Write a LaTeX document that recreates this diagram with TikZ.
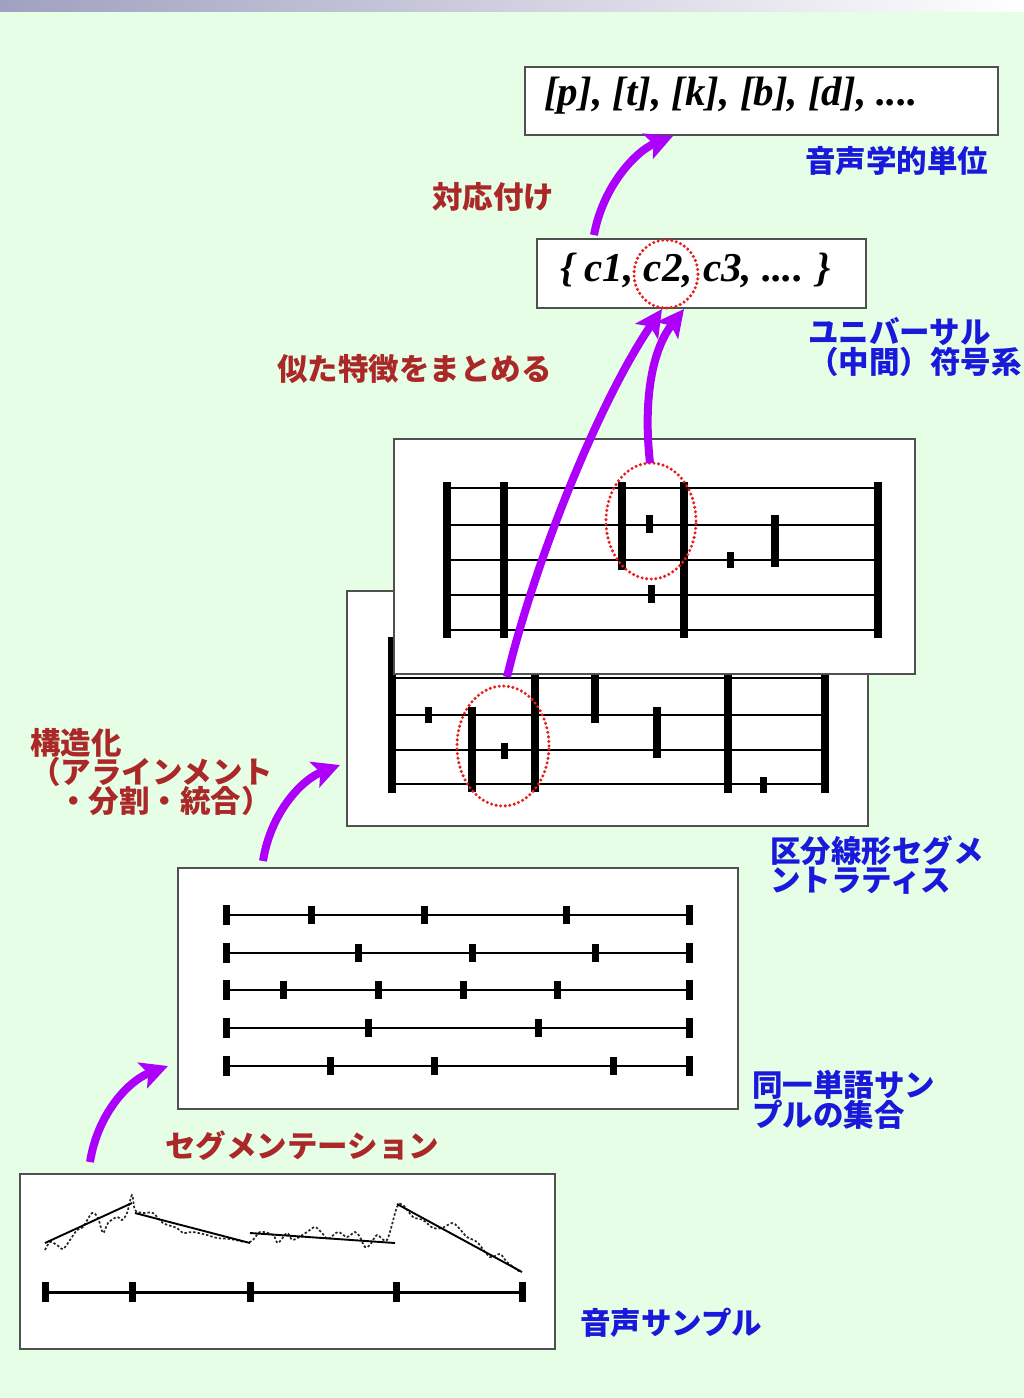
\documentclass[tikz,border=0pt]{standalone}
\usepackage{fontspec}
\newfontfamily\jp{Noto Sans CJK JP}
\newfontfamily\tnr{Liberation Serif}
\usetikzlibrary{arrows.meta,shapes.geometric}
\definecolor{bggreen}{RGB}{230,254,230}
\definecolor{labblue}{RGB}{25,25,220}
\definecolor{labred}{RGB}{170,40,40}
\definecolor{arrowpurple}{RGB}{172,0,250}
\definecolor{dotred}{RGB}{230,30,30}
\definecolor{boxgray}{RGB}{80,80,80}
\definecolor{stripL}{RGB}{160,160,192}
\begin{document}
\begin{tikzpicture}[x=1pt,y=-1pt,
  box/.style={draw=boxgray, line width=1.6pt, fill=white, inner sep=0pt, anchor=north west},
  jplab/.style={font=\jp\bfseries\fontsize{30.5pt}{29.5pt}\selectfont, anchor=west, inner sep=0pt, align=left},
  bluelab/.style={jplab, text=labblue},
  redlab/.style={jplab, text=labred},
  mathtxt/.style={font=\tnr\bfseries\itshape\fontsize{41pt}{41pt}\selectfont, anchor=west, inner sep=0pt},
  flow/.style={draw=arrowpurple, line width=8pt, -{Stealth[length=27pt,width=27pt,inset=6pt]}},
  ring/.style={draw=dotred, line width=3.4pt, dash pattern=on 0pt off 4.6pt, line cap=round},
  bar/.style={line width=8pt},
  hline/.style={line width=2.6pt},
  tick/.style={line width=7pt},
]
\useasboundingbox (0,0) rectangle (1024,1398);
% background
\fill[bggreen] (0,11) rectangle (1024,1398);
\shade[left color=stripL, right color=white] (0,0) rectangle (1024,11);

% ---------- top box: phonetic units
\node[box, minimum width=473pt, minimum height=68pt] (phon) at (524,66) {};
\node[mathtxt] (phontext) at (544,96) {[p], [t], [k], [b], [d], ....};
\node[bluelab] (phonlab) at (805,161) {音声学的単位};

% ---------- code set box
\node[box, minimum width=329pt, minimum height=69pt] (code) at (536,238) {};
\node[mathtxt] (codetext) at (560,270) {\{ c1, c2, c3, .... \}};
\node[ring, ellipse, draw, minimum width=64pt, minimum height=68pt, inner sep=0pt] (c2ring) at (666,274) {};
\node[bluelab] (codelab) at (808,347) {ユニバーサル\\（中間）符号系};

% labels
\node[redlab] (assoc) at (432,197) {対応付け};
\node[redlab] (group) at (277,369) {似た特徴をまとめる};

% ---------- front lattice (lower)
\node[box, minimum width=521pt, minimum height=235pt] (latB) at (346,590) {};
\foreach \y in {643,678,715,750,784} \draw[hline] (392,\y) -- (825,\y);
\foreach \x/\a/\b in {392/637/793, 472/707/792, 535/637/792, 595/637/723, 657/707/758, 728/637/793, 825/637/793}
  \draw[bar] (\x,\a) -- (\x,\b);
\foreach \x/\a/\b in {428/707/723, 504/743/759, 763/777/793}
  \draw[tick] (\x,\a) -- (\x,\b);
\node[ring, ellipse, draw, minimum width=92pt, minimum height=120pt, inner sep=0pt] (ringB) at (503,746) {};

% ---------- back lattice (upper)
\node[box, minimum width=521pt, minimum height=235pt] (latA) at (393,438) {};
\foreach \y in {488,525,560,595,630} \draw[hline] (447,\y) -- (878,\y);
\foreach \x/\a/\b in {447/482/638, 504/482/638, 622/482/570, 684/482/638, 775/515/567, 878/482/638}
  \draw[bar] (\x,\a) -- (\x,\b);
\foreach \x/\a/\b in {649/515/533, 651/585/603, 730/552/568}
  \draw[tick] (\x,\a) -- (\x,\b);
\node[ring, ellipse, draw, minimum width=90pt, minimum height=116pt, inner sep=0pt] (ringA) at (651,521) {};

\node[bluelab] (latlab) at (770,865) {区分線形セグメ\\ ントラティス};

% ---------- sample set box
\node[box, minimum width=560pt, minimum height=241pt] (samples) at (177,867) {};
\foreach \y/\ticks in {915/{311,424,566}, 953/{358,472,595}, 990/{283,378,463,557}, 1028/{368,538}, 1066/{330,434,613}} {
  \draw[hline] (226,\y) -- (689,\y);
  \foreach \x in {226,689} \draw[tick] (\x,\y-10) -- (\x,\y+10);
  \foreach \x in \ticks \draw[tick] (\x,\y-9) -- (\x,\y+9);
}
\node[bluelab] (samplab) at (752,1100) {同一単語サン\\プルの集合};

% ---------- speech sample box
\node[box, minimum width=535pt, minimum height=175pt] (speech) at (19,1173) {};
\draw[hline, line width=3pt] (45,1292) -- (522,1292);
\foreach \x in {45,132,250,396,522} \draw[tick] (\x,1282) -- (\x,1302);
\draw[black!85, line width=1.7pt, dash pattern=on 2.4pt off 2pt] plot[smooth, tension=0.5] coordinates {
 (45,1250) (50,1242) (57,1245) (63,1249) (70,1240) (77,1230) (83,1227) (92,1213) (98,1218) (103,1233) (108,1223) (117,1217) (122,1220) (127,1213) (132,1195) (135,1210) (143,1213) (153,1213) (163,1223) (177,1228) (183,1233) (193,1232) (207,1235) (217,1238) (230,1239) (250,1242)
 (260,1232) (273,1235) (278,1243) (287,1233) (293,1240) (307,1232) (315,1227) (322,1233) (328,1239) (338,1232) (347,1237) (355,1232) (360,1237) (365,1247) (370,1245) (377,1235) (387,1240) (397,1207) (403,1205) (413,1217) (423,1220) (433,1228) (442,1228) (452,1223) (458,1227) (467,1237) (477,1242) (490,1257) (500,1254) (507,1262) (520,1272)};
\draw[line width=1.9pt] (45,1243) -- (132,1203);
\draw[line width=1.9pt] (135,1213) -- (250,1243);
\draw[line width=1.9pt] (250,1233) -- (395,1243);
\draw[line width=1.9pt] (397,1204) -- (522,1272);
\node[bluelab] (speechlab) at (580,1323) {音声サンプル};

% ---------- red labels
\node[redlab] (segm) at (165,1146) {セグメンテーション};
\node[redlab] (struct1) at (30,743) {構造化};
\node[redlab] (struct2) at (30,772) {（アラインメント};
\node[redlab] (struct3) at (58,801) {・分割・統合）};

% ---------- arrows
\coordinate (a1s) at (90,1162);  \coordinate (a1e) at (168,1066);
\coordinate (a2s) at (263,861);  \coordinate (a2e) at (340,765);
\coordinate (a3s) at (507,677);  \coordinate (a3e) at (662,309);
\coordinate (a4s) at (650,463);  \coordinate (a4e) at (684,309);
\coordinate (a5s) at (594,235);  \coordinate (a5e) at (673,136);
\draw[flow] (a1s) .. controls (98,1112) and (130,1080) .. (a1e);
\draw[flow] (a2s) .. controls (271,811) and (303,779) .. (a2e);
\draw[flow] (a3s) .. controls (535,560) and (600,400) .. (a3e);
\draw[flow] (a4s) .. controls (643,400) and (652,350) .. (a4e);
\draw[flow] (a5s) .. controls (603,186) and (636,151) .. (a5e);
\end{tikzpicture}
\end{document}
